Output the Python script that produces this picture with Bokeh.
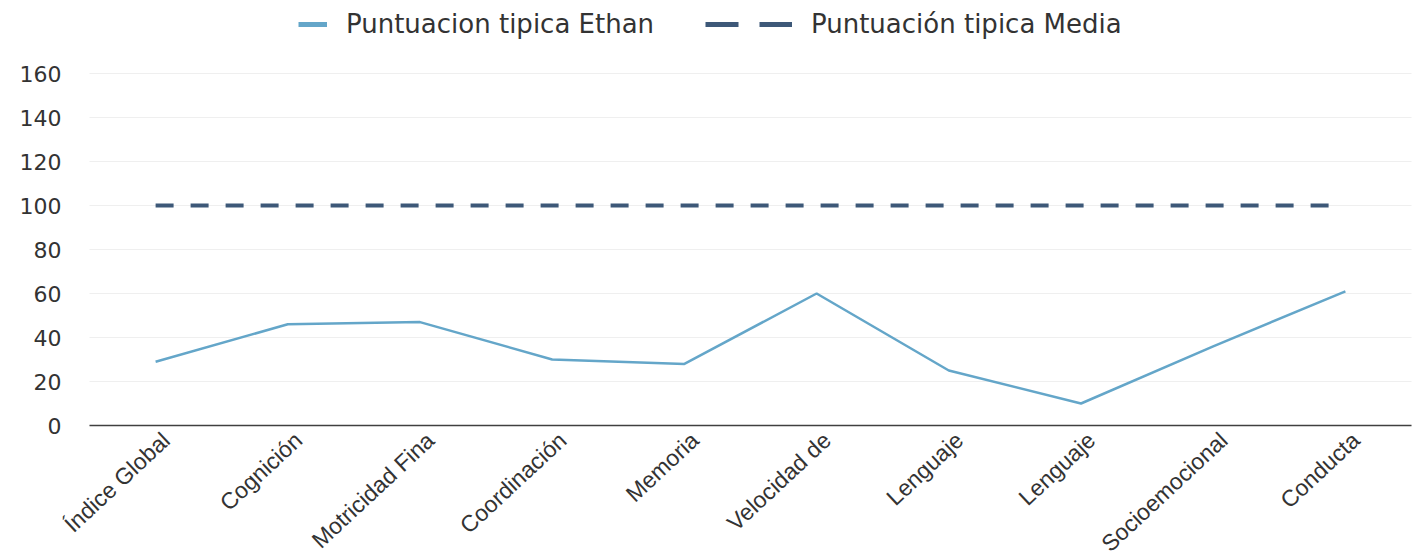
from bokeh.plotting import figure
from bokeh.models import (Legend, LegendItem, LinearAxis, Range1d, FixedTicker)
from bokeh.embed import file_html
from bokeh.resources import INLINE

categories = ["Índice Global", "Cognición", "Motricidad Fina", "Coordinación",
              "Memoria", "Velocidad de", "Lenguaje", "Lenguaje",
              "Socioemocional", "Conducta"]
ethan = [29, 46, 47, 30, 28, 60, 25, 10, 36, 61]
media = [100, 100, 100, 100, 100, 100, 100, 100, 100, 100]
y_ticks = [0, 20, 40, 60, 80, 100, 120, 140, 160]

x = list(range(len(categories)))
n = len(categories)

ETHAN_C = "#64a6c9"
MEDIA_C = "#3d5878"
TEXT_C = "#333333"
FONT = "DejaVu Sans"
XFONT = "Liberation Sans"

# The frame fills the whole canvas; ranges are chosen so that the plotting
# area (x from -0.5 to n-0.5, y from 0 to 160) sits at the reference position.
W, H = 1416, 557
LEFT_PX, RIGHT_PX = 89, 1411
ZERO_PX, TOP_PX = 425, 73
px_x = (RIGHT_PX - LEFT_PX) / n
px_y = (ZERO_PX - TOP_PX) / 160
x_start = -0.5 - LEFT_PX / px_x
x_end = n - 0.5 + (W - RIGHT_PX) / px_x
y_start = -(H - ZERO_PX) / px_y
y_end = ZERO_PX / px_y

p = figure(width=W, height=H, output_backend="svg", toolbar_location=None,
           x_range=Range1d(x_start, x_end),
           y_range=Range1d(y_start, y_end),
           x_axis_location=None,
           min_border_left=0, min_border_right=0, min_border_top=0,
           min_border_bottom=0)
p.outline_line_color = None
p.background_fill_color = "white"
p.border_fill_color = "white"

# y axis, drawn at the left edge of the plotting area
p.yaxis.fixed_location = -0.5
p.yaxis.ticker = FixedTicker(ticks=y_ticks)
p.yaxis.axis_line_color = None
p.yaxis.major_tick_line_color = None
p.yaxis.minor_tick_line_color = None
p.yaxis.major_label_standoff = 22
p.yaxis.major_label_text_font = FONT
p.yaxis.major_label_text_font_size = "22px"
p.yaxis.major_label_text_color = TEXT_C

p.ygrid.ticker = FixedTicker(ticks=y_ticks)
p.ygrid.grid_line_color = "#efefef"
g = p.ygrid[0]
if "cross_bounds" in g.properties():
    g.cross_bounds = (-0.5, n - 0.5)
p.xgrid.visible = False

# x axis drawn at value 0; labels slightly offset to the right of the points
SHIFT = 0.08
p.extra_x_ranges = {"lab": Range1d(x_start - SHIFT, x_end - SHIFT)}
xa = LinearAxis(x_range_name="lab", ticker=FixedTicker(ticks=x),
                fixed_location=0,
                bounds=(-0.5 - SHIFT, n - 0.5 - SHIFT),
                major_label_overrides={i: c for i, c in zip(x, categories)},
                major_label_orientation=0.75,
                major_label_standoff=11,
                major_tick_line_color=None, minor_tick_line_color=None,
                major_tick_out=0, major_tick_in=0,
                axis_line_color="#404040", axis_line_width=1.6,
                major_label_text_font=XFONT, major_label_text_font_size="23px",
                major_label_text_color=TEXT_C)
p.add_layout(xa, "below")

# data
p.line(x, ethan, line_color=ETHAN_C, line_width=2.5)
p.line(x, media, line_color=MEDIA_C, line_width=4, line_dash="18 17")

# legend proxies (no visible data)
nan = float("nan")
d1 = p.line(x=[nan], y=[nan], line_color=ETHAN_C, line_width=5)
d2 = p.line(x=[nan], y=[nan], line_color=MEDIA_C, line_width=5, line_dash="33 21")

common = dict(orientation="horizontal", padding=0, margin=0, spacing=0,
              border_line_color=None, background_fill_alpha=0,
              label_text_font=FONT, label_text_font_size="26px",
              label_text_color=TEXT_C, glyph_height=20)

leg1 = Legend(items=[LegendItem(label="Puntuacion tipica Ethan", renderers=[d1])],
              location=(298, 518), glyph_width=29, label_standoff=19, **common)
leg2 = Legend(items=[LegendItem(label="Puntuación tipica Media", renderers=[d2])],
              location=(705, 518), glyph_width=87, label_standoff=19, **common)
p.add_layout(leg1, "center")
p.add_layout(leg2, "center")

open("out.html", "w").write(file_html(p, INLINE))
